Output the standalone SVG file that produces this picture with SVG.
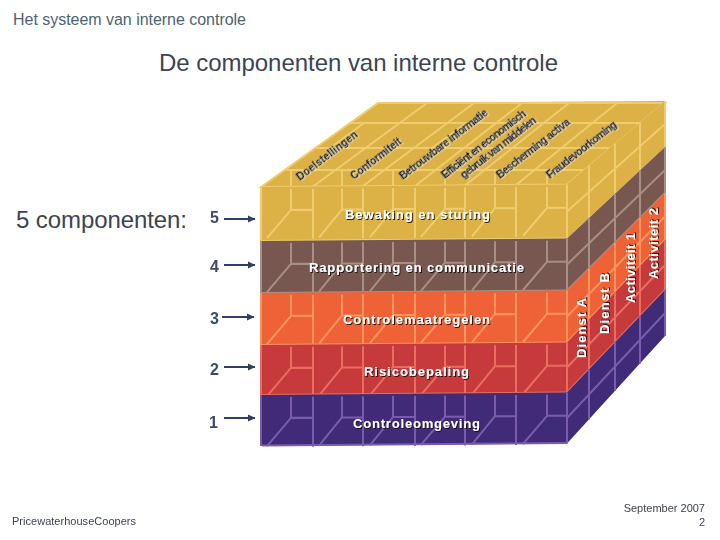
<svg xmlns="http://www.w3.org/2000/svg" xmlns:xlink="http://www.w3.org/1999/xlink" width="720" height="540" viewBox="0 0 720 540">
<style>
.ui{font-family:"Liberation Sans",Arial,sans-serif;fill:#3c4454}
.hd{fill:#4d6373}
.num{font-family:"Liberation Sans",Arial,sans-serif;font-size:16px;font-weight:bold;fill:#3b4a6d}
.lab{font-family:"Liberation Sans",Arial,sans-serif;font-size:13px;font-weight:bold;fill:#fff;filter:url(#sh)}
.top{font-family:"Liberation Sans",Arial,sans-serif;font-size:10.5px;font-weight:bold;fill:#0d0804;stroke:#0d0804;stroke-width:0.35;filter:url(#wh)}
.gr{fill:none;stroke-width:2;filter:url(#soft)}
.arr{stroke:#2f3f68;stroke-width:2;fill:none;marker-end:url(#ah)}
.y{fill:#dcb145}.yl{stroke:#efcd6e}
.b{fill:#77574f}.bl{stroke:#a88f84}
.o{fill:#ef6238}.ol{stroke:#fb9560}
.r{fill:#c63a3c}.rl{stroke:#e96e60}
.p{fill:#3f2b78}.pl{stroke:#7a5cae}
</style>
<defs>
<marker id="ah" markerWidth="8" markerHeight="8" refX="7" refY="4" orient="auto" markerUnits="userSpaceOnUse"><path d="M0,0.5L7.5,4L0,7.5Z" fill="#2f3f68"/></marker>
<filter id="soft" x="-5%" y="-5%" width="110%" height="110%"><feGaussianBlur stdDeviation="0.45"/></filter>
<filter id="sh" x="-10%" y="-30%" width="120%" height="170%"><feDropShadow dx="1" dy="1" stdDeviation="0.4" flood-color="#111" flood-opacity="0.9"/></filter>
<filter id="wh" x="-10%" y="-40%" width="120%" height="180%"><feDropShadow dx="0.7" dy="0.9" stdDeviation="0.2" flood-color="#fff" flood-opacity="0.7"/></filter>
<g id="row"><path id="cell" d="M29,0V21H51M29,21L5,49M51,0V50M80,0V21H101M80,21L57,49M101,0V50M131,0V21H153M131,21L108,49M153,0V50M183,0V21H203M183,21L159,49M203,0V50M233,0V21H254M233,21L210,49M254,0V50M285,0V21H305M285,21L261,49"/></g>
</defs>

<text class="ui hd" x="13" y="25" font-size="16" textLength="233">Het systeem van interne controle</text>
<text class="ui" x="159" y="71" font-size="24" textLength="399">De componenten van interne controle</text>
<text class="ui" x="16" y="228" font-size="24" textLength="171">5 componenten:</text>

<g id="cube">
<g id="top-face">
<polygon class="y" points="261,187 567,184.5 665,101 378,103"/>
<path class="gr yl" d="M261,187L378,103H665L567,184.5ZM285,170H584M315,148H610M350,123H643M313,186.5L427,103M363,186L474,103M415,186L522,103M465,185.5L569,103M516,185L617,103M291,187V170M342,186V170M393,186V170M445,186V170M495,185V170M547,185V170M330,148L364,123M432,148L466,123M532,148L566,123"/>
<g class="top-labels">
<text class="top" transform="translate(300,181) rotate(-37.5)" textLength="74">Doelstellingen</text>
<text class="top" transform="translate(354,180) rotate(-37.5)" textLength="61">Conformiteit</text>
<text class="top" transform="translate(403,180) rotate(-37.5)" textLength="108">Betrouwbare informatie</text>
<text class="top" transform="translate(445,179) rotate(-38) " textLength="104">Efficiënt en economisch</text>
<text class="top" transform="translate(464,179) rotate(-38)" textLength="93">gebruik van middelen</text>
<text class="top" transform="translate(500,179) rotate(-38)" textLength="90">Bescherming activa</text>
<text class="top" transform="translate(550,179) rotate(-38)" textLength="86">Fraudevoorkoming</text>
</g>
</g>

<g id="laag-5">
<polygon class="y" points="261,187 567,184.5 567,238.5 261,241"/>
<polygon class="y" points="567,184.5 665,101 665,147 567,238.5"/>
<g class="gr yl"><path d="M261,241H567M261,187V241" transform="matrix(1,-0.008,0,1,0,2.1)"/><use xlink:href="#row" href="#row" transform="matrix(1,-0.008,0,1,262,189.1)"/><path d="M567,184.5V238.5M665,147V101M589,165.8V218M615,143.6V193.7M640,122.3V170.3M567,211.5L665,124"/></g>
<text class="lab" x="345" y="219" textLength="145">Bewaking en sturing</text>
</g>
<g id="laag-4">
<polygon class="b" points="261,241 567,238.5 567,290.5 261,293"/>
<polygon class="b" points="567,238.5 665,147 665,193 567,290.5"/>
<g class="gr bl"><path d="M261,293H567M261,241V293" transform="matrix(1,-0.008,0,1,0,2.1)"/><use xlink:href="#row" href="#row" transform="matrix(1,-0.008,0,1,262,243.1)"/><path d="M567,238.5V290.5L665,193V147M589,218V268.7M615,193.7V242.7M640,170.3V217.9M567,264.5L665,170"/></g>
<text class="lab" x="309" y="272" textLength="215">Rapportering en communicatie</text>
</g>
<g id="laag-3">
<polygon class="o" points="261,293 567,290.5 567,342.5 261,345"/>
<polygon class="o" points="567,290.5 665,193 665,240 567,342.5"/>
<g class="gr ol"><path d="M261,345H567M261,293V345" transform="matrix(1,-0.008,0,1,0,2.1)"/><use xlink:href="#row" href="#row" transform="matrix(1,-0.008,0,1,262,295.1)"/><path d="M567,290.5V342.5L665,240V193M589,268.7V319.5M615,242.7V292.3M640,217.9V266.1M567,316.5L665,216.5"/></g>
<text class="lab" x="343" y="324" textLength="147">Controlemaatregelen</text>
</g>
<g id="laag-2">
<polygon class="r" points="261,345 567,342.5 567,392.5 261,395"/>
<polygon class="r" points="567,342.5 665,240 665,290 567,392.5"/>
<g class="gr rl"><path d="M261,395H567M261,345V395" transform="matrix(1,-0.008,0,1,0,2.1)"/><use xlink:href="#row" href="#row" transform="matrix(1,-0.008,0,1,262,347.1)"/><path d="M567,342.5V392.5L665,290V240M589,319.5V369.5M615,292.3V342.3M640,266.1V316.1M567,367.5L665,265"/></g>
<text class="lab" x="364" y="376" textLength="105">Risicobepaling</text>
</g>
<g id="laag-1">
<polygon class="p" points="261,395 567,392.5 567,443.5 262,446"/>
<polygon class="p" points="567,392.5 665,290 665,336 567,443.5"/>
<g class="gr pl"><path d="M262,445.5H567M261,395V446" transform="matrix(1,-0.008,0,1,0,2.1)"/><use xlink:href="#row" href="#row" transform="matrix(1,-0.008,0,1,262,397.1)"/><path d="M567,392.5V443.5M665,336V290M589,369.5V419.4M615,342.3V390.8M640,316.1V363.4M567,418L665,313"/></g>
<text class="lab" x="353" y="428" textLength="127">Controleomgeving</text>
</g>
<g id="zijkant-labels">
<text class="lab" transform="translate(586,358) rotate(-90)" textLength="60">Dienst A</text>
<text class="lab" transform="translate(609,334) rotate(-90)" textLength="61">Dienst B</text>
<text class="lab" transform="translate(635,303) rotate(-90)" textLength="70">Activiteit 1</text>
<text class="lab" transform="translate(658,279) rotate(-90)" textLength="71">Activiteit 2</text>
</g>
</g>

<g id="nummers">
<text class="num" x="210" y="223">5</text>
<text class="num" x="210" y="272">4</text>
<text class="num" x="210" y="324">3</text>
<text class="num" x="210" y="375">2</text>
<text class="num" x="209" y="428">1</text>
</g>
<g id="connectors">
<path class="arr" d="M224,219H255"/>
<path class="arr" d="M224,265H255"/>
<path class="arr" d="M222,317H254"/>
<path class="arr" d="M224,367H255"/>
<path class="arr" d="M224,418H255"/>
</g>

<text class="ui" x="12" y="525" font-size="11" textLength="124">PricewaterhouseCoopers</text>
<text class="ui" x="705" y="512" font-size="11" text-anchor="end">September 2007</text>
<text class="ui" x="705" y="526" font-size="11" text-anchor="end">2</text>
</svg>
